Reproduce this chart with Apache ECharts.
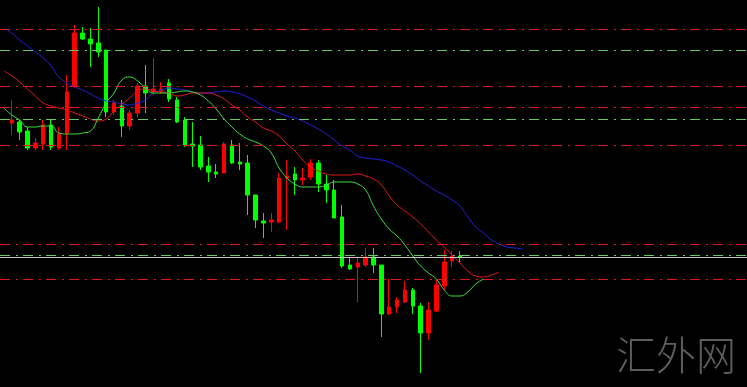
<!DOCTYPE html>
<html><head><meta charset="utf-8">
<script src="https://cdn.jsdelivr.net/npm/echarts@6/dist/echarts.min.js"></script>
<style>html,body{margin:0;padding:0;background:#000;}#chart{width:747px;height:387px;}</style>
</head><body><div id="chart"></div>
<script>
// bar slots (the first slot is a lead-in before the first candle; the tail is future space)
const categories = ['0','1','2','3','4','5','6','7','8','9','10','11','12','13','14','15','16','17','18','19',
'20','21','22','23','24','25','26','27','28','29','30','31','32','33','34','35','36','37','38','39',
'40','41','42','43','44','45','46','47','48','49','50','51','52','53','54','55','56','57','58','59',
'60','61','62','63','64','65','66','67','68','69','70','71','72','73','74','75','76','77','78','79',
'80','81','82','83','84','85','86','87','88','89','90','91','92','93','94'];

// candles: [open, close, low, high]
const candles = [
[264,267,252,287],[265,255,247,267],[256,239,237,260],[239,244,237,249],[243,262,237,267],
[262,240,237,267],[239,253,237,260],[254,295,237,312],[301,354,299,362],[354,348,347,360],
[348,343,320,359],[344,335,330,380],[337,275,270,337],[275,284,272,287],[281,261,250,287],
[261,274,257,277],[274,301,270,304],[301,294,274,322],[295,298,292,329],[296,298,293,305],
[304,288,285,308],[287,265,264,290],[267,242,240,270],[243,241,220,265],[242,220,217,251],
[221,215,205,230],[215,213,209,223],[214,243,214,245],[242,224,223,247],[225,223,217,244],
[224,192,172,232],[192,167,159,192],[166,164,149,174],[165,167,155,174],[165,209,164,214],
[209,211,157,227],[213,207,192,220],[207,209,202,219],[210,224,207,228],[224,203,195,227],
[203,197,184,212],[197,169,169,207],[170,121,119,182],[122,118,117,130],[120,124,85,129],
[122,130,120,139],[130,122,114,139],[122,73,50,122],[73,80,72,108],[80,87,74,90],
[85,97,84,106],[97,81,73,99],[81,54,14,84],[54,77,47,85],[76,102,75,107],
[101,125,97,137],[126,131,120,136],[131,130,125,136]
];

// Alligator lines (shifted forward): jaw (blue), teeth (red), lips (green)
const jaw = [359,354,347,341,335,329,321,310,304,300,297,293,289,286,285,283,282,284,287,294,
297,299,298,297,295,294,294,295,296,295,293,290,286,281,277,274,271,269,266,262,
258,253,247,241,237,231,229,228,227,225,221,217,212,206,201,196,192,187,181,170,
160,154,147,143,140,139,138];
const teeth = [316,311,305,298,291,284,281,279,277,274,271,268,266,268,276,283,289,296,298,296,
295,294,291,292,294,294,294,292,288,282,277,270,265,259,256,251,243,236,227,220,
216,213,212,212,212,213,211,208,202,191,182,176,170,163,155,147,140,132,124,116,
111,110,112,115];
const lips = [279,272,267,260,260,261,261,254,253,253,254,256,269,284,294,307,310,306,299,294,
294,294,295,296,295,292,286,278,268,260,253,248,245,241,234,219,209,203,200,200,
200,202,205,205,205,203,197,181,168,158,151,142,131,121,114,108,97,91,91,95,
103,108];

// horizontal levels
const redLevels = [357.5, 300.5, 279.5, 241.5, 142.5, 107.5];
const greenLevels = [336.5, 267.5, 131.5];
const currentPrice = 129.5;
const watermark = '汇外网';

const chart = echarts.init(document.getElementById('chart'), null, {renderer: 'canvas'});
const dashDot = [10, 6, 2, 5];

function levelSeries(values, color, type) {
  return {
    type: 'line', z: 4, data: [], symbol: 'none', silent: true,
    markLine: {
      silent: true, symbol: ['none', 'none'], label: {show: false},
      lineStyle: {color: color, width: 1, type: type, opacity: 1},
      emphasis: {disabled: true},
      data: values.map(v => ({yAxis: v}))
    }
  };
}

chart.setOption({
  backgroundColor: '#000000',
  animation: false,
  grid: {left: -10, right: -3, top: 0, bottom: 0},
  xAxis: {type: 'category', data: categories, boundaryGap: true, show: false},
  yAxis: {type: 'value', min: 0, max: 387, show: false, splitLine: {show: false}},
  graphic: [{
    type: 'text', left: 616, top: 335, z: 100,
    style: {text: watermark, fill: '#5e5e5e', font: '300 40px "Noto Sans CJK SC"'}
  }],
  series: [
    {
      type: 'candlestick', z: 2,
      data: ['-'].concat(candles),
      barWidth: 4,
      itemStyle: {color: '#ff0000', color0: '#00ff00', borderColor: '#ff0000', borderColor0: '#00ff00', borderWidth: 1}
    },
    {type: 'line', z: 3, data: jaw, symbol: 'none', smooth: true, lineStyle: {color: '#2222dd', width: 1}},
    {type: 'line', z: 3, data: teeth, symbol: 'none', smooth: true, lineStyle: {color: '#e41a1a', width: 1}},
    {type: 'line', z: 3, data: lips, symbol: 'none', smooth: true, lineStyle: {color: '#3ee23e', width: 1}},
    levelSeries(redLevels, '#e01818', dashDot),
    levelSeries(greenLevels, '#62c862', dashDot),
    levelSeries([currentPrice], '#c4c4c4', 'solid')
  ]
});
</script>
</body></html>
